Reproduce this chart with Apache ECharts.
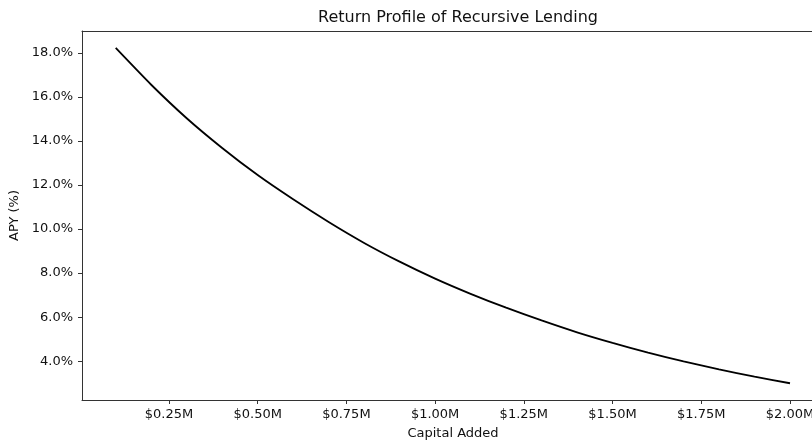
<!DOCTYPE html>
<html>
<head>
<meta charset="utf-8">
<script src="https://cdn.jsdelivr.net/npm/echarts@6/dist/echarts.min.js"></script>
<style>
  html, body { margin: 0; padding: 0; background: #fff; }
  #chart { width: 812px; height: 443px; }
</style>
</head>
<body>
<div id="chart"></div>
<script>
// capital added, in $M
const capital = [0.1, 0.2, 0.3, 0.4, 0.5, 0.6, 0.7, 0.8, 0.9, 1.0,
                 1.1, 1.2, 1.3, 1.4, 1.5, 1.6, 1.7, 1.8, 1.9, 2.0]
// APY in percent
const apy = [18.22, 16.55, 15.03, 13.68, 12.45, 11.35, 10.32, 9.37, 8.52, 7.75,
             7.06, 6.43, 5.85, 5.31, 4.83, 4.39, 3.99, 3.63, 3.3, 3.0]
const xTicks = [0.25, 0.5, 0.75, 1.0, 1.25, 1.5, 1.75, 2.0]
const yTicks = [4, 6, 8, 10, 12, 14, 16, 18]

const font = 'DejaVu Sans'
const textColor = '#111'
const spine = { show: true, lineStyle: { color: '#333', width: 1 } }

const chart = echarts.init(document.getElementById('chart'))
chart.setOption({
  animation: false,
  backgroundColor: '#fff',
  title: {
    text: 'Return Profile of Recursive Lending',
    left: 453,
    textAlign: 'center',
    top: 5,
    textStyle: { fontFamily: font, fontSize: 16, fontWeight: 'normal', color: textColor },
  },
  grid: { left: 82, right: 0, top: 31, bottom: 43, outerBoundsMode: 'none' },
  xAxis: [
    {
      type: 'value',
      min: 0.005,
      max: 2.062, // picture is cut off on the right
      name: 'Capital Added',
      nameLocation: 'middle',
      nameGap: 27,
      nameTextStyle: { fontFamily: font, fontSize: 13, color: textColor, padding: [0, 0, 0, 12] },
      axisLine: spine,
      splitLine: { show: false },
      axisTick: { show: true, length: 4, customValues: xTicks, lineStyle: { color: '#333' } },
      axisLabel: {
        customValues: xTicks,
        margin: 8,
        fontFamily: font,
        fontSize: 13,
        color: textColor,
        formatter: v => '$' + v.toFixed(2) + 'M',
      },
    },
    {
      type: 'value',
      position: 'top',
      min: 0.005,
      max: 2.062,
      axisLine: spine,
      axisTick: { show: false },
      axisLabel: { show: false },
      splitLine: { show: false },
    },
  ],
  yAxis: {
    type: 'value',
    min: 2.24,
    max: 18.99,
    name: 'APY (%)',
    nameLocation: 'middle',
    nameGap: 58,
    nameTextStyle: { fontFamily: font, fontSize: 13, color: textColor },
    axisLine: spine,
    splitLine: { show: false },
    axisTick: { show: true, length: 4, customValues: yTicks, lineStyle: { color: '#333' } },
    axisLabel: {
      customValues: yTicks,
      margin: 9,
      fontFamily: font,
      fontSize: 13,
      color: textColor,
      formatter: v => v.toFixed(1) + '%',
    },
  },
  series: [
    {
      type: 'line',
      xAxisIndex: 0,
      data: capital.map((c, i) => [c, apy[i]]),
      showSymbol: false,
      symbol: 'none',
      smooth: 0.2,
      lineStyle: { color: '#000', width: 1.8 },
    },
  ],
})
</script>
</body>
</html>
